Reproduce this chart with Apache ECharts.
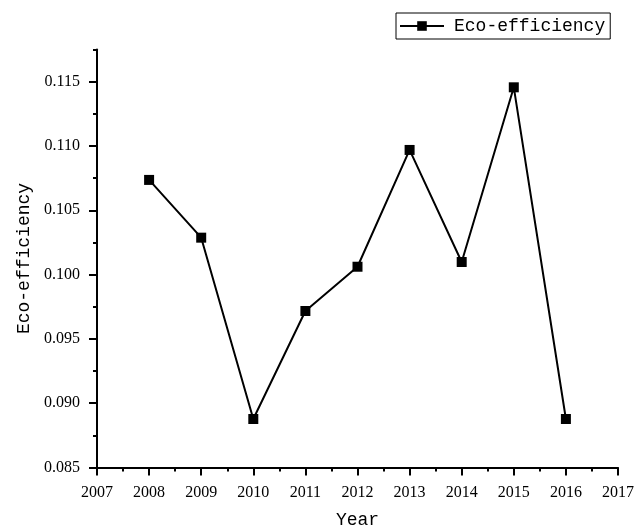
<!DOCTYPE html>
<html>
<head>
<meta charset="utf-8">
<script src="https://cdn.jsdelivr.net/npm/echarts@6/dist/echarts.min.js"></script>
<style>
  html, body { margin: 0; padding: 0; background: #fff; }
  #chart { width: 638px; height: 529px; }
</style>
</head>
<body>
<div id="chart"></div>
<script>
// Eco-efficiency by year
const years = [2008, 2009, 2010, 2011, 2012, 2013, 2014, 2015, 2016];
const ecoEfficiency = [0.10736, 0.10287, 0.08877, 0.09717, 0.10061, 0.10969, 0.10098, 0.11456, 0.08877];
const yMajorTicks = [0.085, 0.090, 0.095, 0.100, 0.105, 0.110, 0.115];
const yMinorTicks = [0.0875, 0.0925, 0.0975, 0.1025, 0.1075, 0.1125, 0.1175];

const serif = 'Liberation Serif';
const mono = 'Liberation Mono';

const chart = echarts.init(document.getElementById('chart'));
chart.setOption({
  animation: false,
  backgroundColor: '#fff',
  grid: { left: 97, right: 20, top: 49.5, bottom: 61.5, containLabel: false, outerBoundsMode: 'none' },
  legend: {
    left: 396,
    top: 13,
    padding: [4, 5, 4, 3],
    borderColor: '#000',
    borderWidth: 1,
    itemWidth: 44,
    itemHeight: 12,
    textStyle: { fontFamily: mono, fontSize: 18, color: '#000', padding: [0, 0, 0, 5] },
    data: ['Eco-efficiency']
  },
  xAxis: {
    type: 'value',
    min: 2007,
    max: 2017,
    interval: 1,
    name: 'Year',
    nameLocation: 'middle',
    nameGap: 44,
    nameTextStyle: { fontFamily: mono, fontSize: 18, color: '#000' },
    axisLine: { lineStyle: { color: '#000', width: 2 } },
    axisTick: { length: 8, lineStyle: { color: '#000', width: 2 } },
    minorTick: { show: true, splitNumber: 2, length: 4, lineStyle: { color: '#000', width: 2 } },
    splitLine: { show: false },
    axisLabel: { fontFamily: serif, fontSize: 16, color: '#000', margin: 17, formatter: v => String(v) }
  },
  yAxis: [
    {
      type: 'value',
      position: 'left',
      min: 0.085,
      max: 0.1175,
      interval: 0.005,
      name: 'Eco-efficiency',
      nameLocation: 'middle',
      nameGap: 58,
      nameTextStyle: { fontFamily: mono, fontSize: 18, color: '#000' },
      axisLine: { show: true, lineStyle: { color: '#000', width: 2 } },
      axisTick: { show: true, length: 8, customValues: yMajorTicks, lineStyle: { color: '#000', width: 2 } },
      splitLine: { show: false },
      axisLabel: {
        fontFamily: serif, fontSize: 16, color: '#000', margin: 17,
        customValues: yMajorTicks,
        formatter: v => v.toFixed(3)
      }
    },
    {
      type: 'value',
      position: 'left',
      min: 0.085,
      max: 0.1175,
      interval: 0.005,
      axisLine: { show: false },
      axisTick: { show: true, length: 4, customValues: yMinorTicks, lineStyle: { color: '#000', width: 2 } },
      axisLabel: { show: false },
      splitLine: { show: false }
    }
  ],
  series: [{
    name: 'Eco-efficiency',
    type: 'line',
    yAxisIndex: 0,
    data: years.map((y, i) => [y, ecoEfficiency[i]]),
    symbol: 'rect',
    symbolSize: 10,
    itemStyle: { color: '#000' },
    lineStyle: { color: '#000', width: 2 }
  }]
});
</script>
</body>
</html>
